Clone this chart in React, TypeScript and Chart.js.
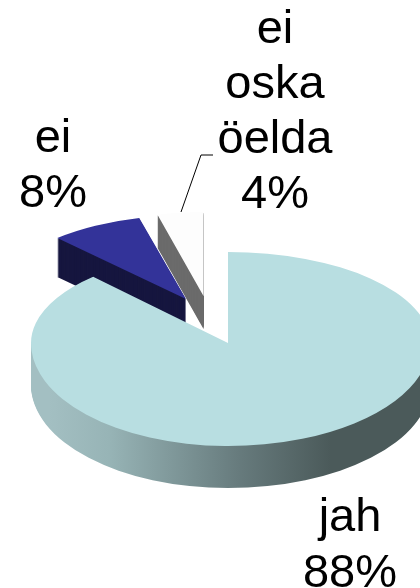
import React, { useEffect, useRef } from "react";
import { Chart, registerables } from "chart.js";

Chart.register(...registerables);

// Data, in drawing order (back slices first, the large slice last)
const categories = ["ei", "ei oska öelda", "jah"];
const values = [8, 4, 88];
const sliceColors = ["#333399", "#FDFDFD", "#B8DEE1"];
const sideColors = ["#16163F", "#6B6B6B", ""];
const percentLabels = ["8%", "4%", "88%"];

// Layout of the 3D projection
const anchorX = [186, 203.5, 228];
const anchorY = [299, 296, 343];
const radii = [188, 185, 197];
const stretchRight = [1, 1, 1.025];
const tiltBack = [0.445, 0.454, 0.462];
const tiltFront = [0.445, 0.454, 0.523];
const depths = [39, 33, 42];
const rimGradientStops: [number, string][] = [
  [0, "#A3BFC2"],
  [0.15, "#97B4B6"],
  [0.48, "#667A7C"],
  [0.7, "#4B5A5A"],
  [1, "#4B5A5A"],
];

const labelFont = '47px "Liberation Sans", Arial, sans-serif';
const labelLines = [
  { lines: ["ei", percentLabels[0]], x: 53, baselines: [152, 207] },
  { lines: ["ei", "oska", "öelda", percentLabels[1]], x: 275, baselines: [43, 98, 153, 208] },
  { lines: ["jah", percentLabels[2]], x: 350, baselines: [531, 587] },
];
const leader = [
  [213, 155],
  [201, 155],
  [181, 212],
];

const pie3d = {
  id: "pie3d",
  beforeDatasetsDraw(chart: any) {
    const { ctx, width, height } = chart;
    const arcs = chart.getDatasetMeta(0).data;
    arcs.forEach((arc: any, i: number) => {
      arc.outerRadius = radii[i];
      const ax = anchorX[i];
      const ay = anchorY[i];
      const R = radii[i];
      const isRim = !sideColors[i];

      const path = () => {
        ctx.beginPath();
        ctx.moveTo(arc.x, arc.y);
        ctx.arc(arc.x, arc.y, R, arc.startAngle, arc.endAngle);
        ctx.closePath();
      };
      const project = (sx: number, k: number, dy: number) => {
        ctx.translate(ax, ay + dy);
        ctx.scale(sx, k);
        ctx.translate(-arc.x, -arc.y);
      };
      const clipTo = (x: number, y: number, w: number, h: number) => {
        ctx.beginPath();
        ctx.rect(x, y, w, h);
        ctx.clip();
      };
      // left and right halves of the projected pie use different stretch
      const halves: [number, number, number][] = [
        [0, ax + 0.5, 1],
        [ax, width - ax, stretchRight[i]],
      ];

      // extruded side
      let fill: any = sideColors[i];
      if (isRim) {
        const g = ctx.createLinearGradient(ax - R, 0, ax + R * stretchRight[i], 0);
        rimGradientStops.forEach(([p, c]) => g.addColorStop(p, c));
        fill = g;
      }
      halves.forEach(([hx, hw, sx]) => {
        for (let d = depths[i]; d >= 1; d -= 1) {
          ctx.save();
          clipTo(hx, isRim ? ay : 0, hw, height);
          project(sx, tiltFront[i], d);
          path();
          ctx.fillStyle = fill;
          ctx.fill();
          ctx.restore();
        }
      });

      // top face: front half, then back half (different foreshortening)
      halves.forEach(([hx, hw, sx]) => {
        ctx.save();
        clipTo(hx, ay, hw, height);
        project(sx, tiltFront[i], 0);
        arc.draw(ctx);
        ctx.restore();

        ctx.save();
        clipTo(hx, 0, hw, ay + 0.5);
        project(sx, tiltBack[i], 0);
        arc.draw(ctx);
        ctx.restore();
      });
    });
    return false;
  },
  afterDraw(chart: any) {
    const { ctx } = chart;
    ctx.save();
    ctx.fillStyle = "#000000";
    ctx.font = labelFont;
    ctx.textAlign = "center";
    ctx.textBaseline = "alphabetic";
    labelLines.forEach((l) => {
      l.lines.forEach((t, i) => ctx.fillText(t, l.x, l.baselines[i]));
    });
    ctx.strokeStyle = "#000000";
    ctx.lineWidth = 1;
    ctx.beginPath();
    leader.forEach(([x, y], i) => (i ? ctx.lineTo(x, y) : ctx.moveTo(x, y)));
    ctx.stroke();
    ctx.restore();
  },
};

export default function App() {
  const ref = useRef<HTMLCanvasElement | null>(null);
  useEffect(() => {
    if (!ref.current) return;
    const chart = new Chart(ref.current, {
      type: "pie",
      data: {
        labels: categories,
        datasets: [
          {
            data: values,
            backgroundColor: sliceColors,
            borderWidth: 0,
            clip: false,
          } as any,
        ],
      },
      options: {
        responsive: false,
        animation: false,
        events: [],
        rotation: -43.2,
        plugins: { legend: { display: false }, tooltip: { enabled: false } },
      },
      plugins: [pie3d as any],
    });
    return () => chart.destroy();
  }, []);
  return (
    <canvas
      ref={ref}
      width={420}
      height={588}
      style={{ position: "fixed", left: 0, top: 0, width: 420, height: 588, background: "#ffffff" }}
    />
  );
}
